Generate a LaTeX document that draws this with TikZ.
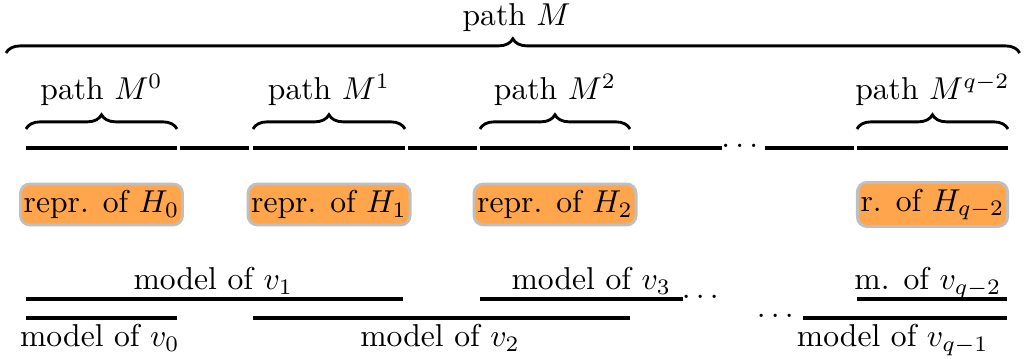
\documentclass[tikz,border=0pt]{standalone}
\usepackage{amsmath}
\usepackage{amssymb}
\usetikzlibrary{decorations.pathreplacing}

\begin{document}
\begin{tikzpicture}[
    seg/.style={line width=1pt},
    pbrace/.style={decorate, decoration={brace, amplitude=4.5pt}, line width=0.9pt},
    reprbox/.style={fill=orange!70, draw=black!25, line width=0.9pt, rounded corners=3pt, inner xsep=1pt, inner ysep=2pt},
    lbl/.style={anchor=base, inner sep=0pt}
]
\useasboundingbox (0,0) rectangle (11.389,-3.978);

% the whole path and its pieces
\draw[pbrace] (0.067,-0.589) -- (11.33,-0.589);
\node (pM) [lbl] at (5.74,-0.278) {path $M$};

\coordinate (M0a) at (0.289,-1.644);  \coordinate (M0b) at (1.967,-1.644);
\coordinate (M1a) at (2.811,-1.644);  \coordinate (M1b) at (4.5,-1.644);
\coordinate (M2a) at (5.333,-1.644);  \coordinate (M2b) at (7.0,-1.644);
\coordinate (Mqa) at (9.522,-1.644);  \coordinate (Mqb) at (11.2,-1.644);

\draw[seg] (M0a) -- (M0b);
\draw[seg] (2.0,-1.644) -- (2.767,-1.644);
\draw[seg] (M1a) -- (M1b);
\draw[seg] (4.533,-1.644) -- (5.3,-1.644);
\draw[seg] (M2a) -- (M2b);
\draw[seg] (7.033,-1.644) -- (8.022,-1.644);
\node (tdots) [lbl] at (8.25,-1.644) {$\dots$};
\draw[seg] (8.5,-1.644) -- (9.489,-1.644);
\draw[seg] (Mqa) -- (Mqb);

\draw[pbrace] (0.289,-1.433) -- (1.967,-1.433);
\draw[pbrace] (2.811,-1.433) -- (4.5,-1.433);
\draw[pbrace] (5.333,-1.433) -- (7.0,-1.433);
\draw[pbrace] (9.522,-1.433) -- (11.2,-1.433);
\node (pM0) [lbl] at (1.128,-1.111) {path $M^0$};
\node (pM1) [lbl] at (3.656,-1.111) {path $M^1$};
\node (pM2) [lbl] at (6.167,-1.111) {path $M^2$};
\node (pMq) [lbl] at (10.361,-1.111) {path $M^{q-2}$};

% representatives
\node (r0) [reprbox] at (1.128,-2.272) {repr. of $H_0$};
\node (r1) [reprbox] at (3.656,-2.272) {repr. of $H_1$};
\node (r2) [reprbox] at (6.167,-2.272) {repr. of $H_2$};
\node (rq) [reprbox] at (10.361,-2.272) {r. of $H_{q-2}$};

% models of the vertices
\draw[seg] (0.289,-3.322) -- (4.478,-3.322);
\node (m1) [lbl] at (2.37,-3.22) {model of $v_1$};
\draw[seg] (0.289,-3.533) -- (1.967,-3.533);
\node (m0) [lbl] at (1.11,-3.85) {model of $v_0$};
\draw[seg] (2.811,-3.533) -- (7.0,-3.533);
\node (m2) [lbl] at (4.89,-3.85) {model of $v_2$};
\draw[seg] (5.333,-3.322) -- (7.589,-3.322);
\node (m3) [lbl] at (6.57,-3.22) {model of $v_3$};
\node (bdots1) [lbl] at (7.811,-3.322) {$\dots$};
\draw[seg] (9.522,-3.322) -- (11.19,-3.322);
\node (mq2) [lbl] at (10.31,-3.22) {m. of $v_{q-2}$};
\node (bdots2) [lbl] at (8.644,-3.533) {$\dots$};
\draw[seg] (8.922,-3.533) -- (11.19,-3.533);
\node (mq1) [lbl] at (9.92,-3.85) {model of $v_{q-1}$};
\end{tikzpicture}
\end{document}
